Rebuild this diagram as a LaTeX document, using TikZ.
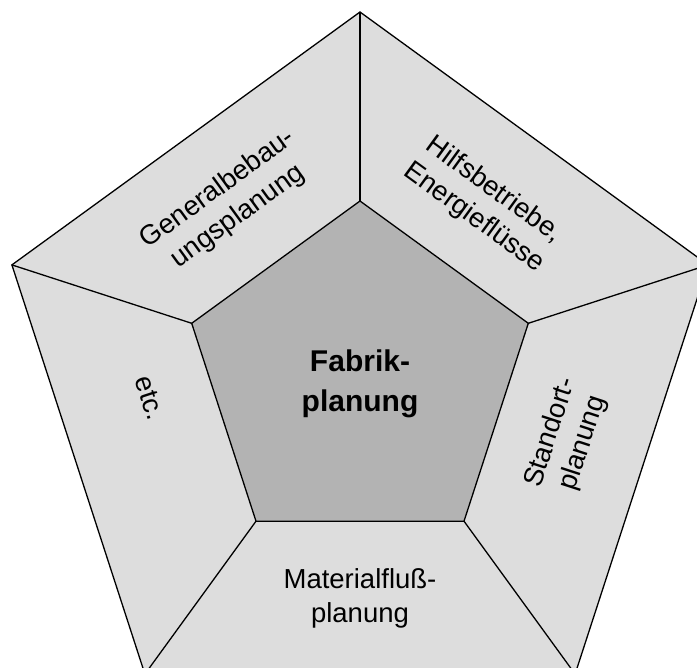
\documentclass[tikz,border=0pt]{standalone}
\usepackage{fontspec}
\setmainfont{Liberation Sans}
\definecolor{ringgray}{HTML}{DDDDDD}
\definecolor{coregray}{HTML}{B3B3B3}
\begin{document}
\begin{tikzpicture}[x=1pt,y=-1pt,
  edge/.style={draw=black,line width=1.3pt,line join=miter},
  lbl/.style={align=center,inner sep=0pt,font=\fontsize{27.5}{34}\selectfont},
  core/.style={align=center,inner sep=0pt,font=\fontsize{30}{40}\selectfont\bfseries}]
\useasboundingbox (0,0) rectangle (697,668);
\clip (0,0) rectangle (697,668);
% outer pentagon corners
\coordinate (o1) at (360,12);
\coordinate (o2) at (708.1,264.9);
\coordinate (o3) at (575.1,674.1);
\coordinate (o4) at (144.9,674.1);
\coordinate (o5) at (11.9,264.9);
% inner pentagon corners
\coordinate (i1) at (360,201);
\coordinate (i2) at (528.3,323.3);
\coordinate (i3) at (464,521.2);
\coordinate (i4) at (256,521.2);
\coordinate (i5) at (191.7,323.3);
% rings and core
\fill[ringgray] (o1) -- (o2) -- (o3) -- (o4) -- (o5) -- cycle;
\filldraw[fill=coregray,edge] (i1) -- (i2) -- (i3) -- (i4) -- (i5) -- cycle;
\draw[edge] (o1) -- (o2) -- (o3) -- (o4) -- (o5) -- cycle;
% spokes between the two pentagons
\draw[edge] (i1) -- (o1);
\draw[edge] (i2) -- (o2);
\draw[edge] (i3) -- (o3);
\draw[edge] (i4) -- (o4);
\draw[edge] (i5) -- (o5);
% labels
\node[core] (fab) at (360,384) {Fabrik-\\planung};
\node[lbl,rotate=36] (gen) at (228,203) {Generalbebau-\\ungsplanung};
\node[lbl,rotate=-36] (hilf) at (484,204) {Hilfsbetriebe,\\Energieflüsse};
\node[lbl,rotate=72] (stand) at (567,438) {Standort-\\planung};
\node[lbl] (mat) at (360,598) {Materialfluß-\\planung};
\node[lbl,rotate=-72] (etc) at (150,398) {etc.};
\end{tikzpicture}
\end{document}
